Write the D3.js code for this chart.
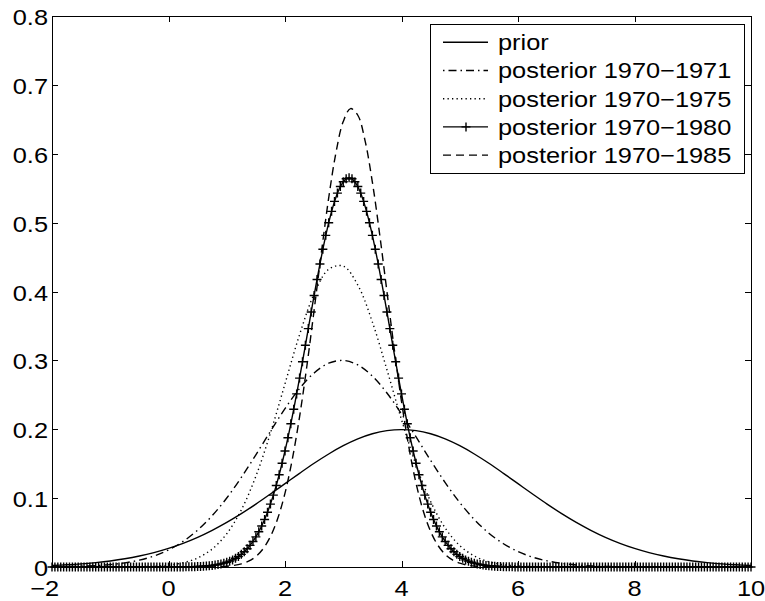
<!DOCTYPE html>
<html>
<head>
<meta charset="utf-8">
<script src="https://cdn.jsdelivr.net/npm/d3@7"></script>
<style>
  html, body { margin: 0; padding: 0; background: #fff; }
  svg { display: block; }
</style>
</head>
<body>
<svg id="chart" width="765" height="601"></svg>
<script>
// Sample positions (x) shared by the broad densities
const xCoarse = [-2,-1.75,-1.5,-1.25,-1,-0.75,-0.5,-0.25,0,0.25,0.5,0.75,1,1.25,1.5,1.75,
  2,2.25,2.5,2.75,3,3.25,3.5,3.75,4,4.25,4.5,4.75,5,5.25,5.5,5.75,
  6,6.25,6.5,6.75,7,7.25,7.5,7.75,8,8.25,8.5,8.75,9,9.25,9.5,9.75,10];

// Prior density
const prior = [0.0022,0.0032,0.0045,0.0064,0.0088,0.0119,0.0159,0.0209,
  0.0270,0.0344,0.0431,0.0533,0.0648,0.0775,0.0913,0.1060,
  0.1210,0.1360,0.1506,0.1641,0.1761,0.1860,0.1934,0.1980,
  0.1995,
  0.1980,0.1934,0.1860,0.1761,0.1641,0.1506,0.1360,0.1210,
  0.1060,0.0913,0.0775,0.0648,0.0533,0.0431,0.0344,0.0270,
  0.0209,0.0159,0.0119,0.0088,0.0064,0.0045,0.0032,0.0022];

// Posterior 1970-1971
const post7071 = [0.0003,0.0006,0.0011,0.0020,0.0035,0.0060,0.0100,0.0160,
  0.0248,0.0371,0.0535,0.0745,0.1002,0.1300,0.1629,0.1970,
  0.2299,0.2591,0.2818,0.2959,0.2999,0.2934,0.2771,0.2526,
  0.2223,0.1888,0.1548,0.1225,0.0936,0.0690,0.0491,0.0338,
  0.0224,0.0143,0.0089,0.0053,0.0030,0.0017,0.0009,0.0005,
  0.0002,0.0001,0,0,0,0,0,0,0];

// Posterior 1970-1975
const post7075 = [0,0,0,0,0,0.0001,0.0004,0.0010,
  0.0026,0.0061,0.0131,0.0261,0.0483,0.0829,0.1318,0.1945,
  0.2660,0.3373,0.3965,0.4323,0.4369,0.4093,0.3556,0.2864,
  0.2139,0.1481,0.0951,0.0566,0.0312,0.0160,0.0076,0.0033,
  0.0014,0.0005,0.0002,0.0001,0,0,0,0,
  0,0,0,0,0,0,0,0,0];

// Half-step grid for the narrowest density
const xMid = [-2,-1.875,-1.75,-1.625,-1.5,-1.375,-1.25,-1.125,
  -1,-0.875,-0.75,-0.625,-0.5,-0.375,-0.25,-0.125,
  0,0.125,0.25,0.375,0.5,0.625,0.75,0.875,
  1,1.125,1.25,1.375,1.5,1.625,1.75,1.875,
  2,2.125,2.25,2.375,2.5,2.625,2.75,2.875,
  3,3.125,3.25,3.375,3.5,3.625,3.75,3.875,
  4,4.125,4.25,4.375,4.5,4.625,4.75,4.875,
  5,5.125,5.25,5.375,5.5,5.625,5.75,5.875,
  6,6.125,6.25,6.375,6.5,6.625,6.75,6.875,
  7,7.125,7.25,7.375,7.5,7.625,7.75,7.875,
  8,8.125,8.25,8.375,8.5,8.625,8.75,8.875,
  9,9.125,9.25,9.375,9.5,9.625,9.75,9.875,
  10];

// Posterior 1970-1985 (on the half-step grid)
const post7085 = [0,0,0,0,0,0,0,0,
  0,0,0,0,0,0,0,0,
  0,0,0,0,0,0.0001,0.0002,0.0005,
  0.0011,0.0023,0.0045,0.0085,0.0153,0.0266,0.0442,0.0704,
  0.1072,0.1563,0.2181,0.2915,0.3730,0.4569,0.5358,0.6017,
  0.6468,0.6656,0.6559,0.6187,0.5587,0.4831,0.3999,0.3169,
  0.2405,0.1747,0.1215,0.0809,0.0516,0.0315,0.0184,0.0103,
  0.0055,0.0028,0.0014,0.0007,0.0003,0.0001,0,0,
  0,0,0,0,0,0,0,0,
  0,0,0,0,0,0,0,0,
  0,0,0,0,0,0,0,0,
  0,0,0,0,0,0,0,0,
  0];

// Fine grid used by the marked series (one "+" per sample)
const xFine = [
  -2,-1.95,-1.9,-1.85,-1.8,-1.75,-1.7,-1.65,-1.6,-1.55,
  -1.5,-1.45,-1.4,-1.35,-1.3,-1.25,-1.2,-1.15,-1.1,-1.05,
  -1,-0.95,-0.9,-0.85,-0.8,-0.75,-0.7,-0.65,-0.6,-0.55,
  -0.5,-0.45,-0.4,-0.35,-0.3,-0.25,-0.2,-0.15,-0.1,-0.05,
  0,0.05,0.1,0.15,0.2,0.25,0.3,0.35,0.4,0.45,
  0.5,0.55,0.6,0.65,0.7,0.75,0.8,0.85,0.9,0.95,
  1,1.05,1.1,1.15,1.2,1.25,1.3,1.35,1.4,1.45,
  1.5,1.55,1.6,1.65,1.7,1.75,1.8,1.85,1.9,1.95,
  2,2.05,2.1,2.15,2.2,2.25,2.3,2.35,2.4,2.45,
  2.5,2.55,2.6,2.65,2.7,2.75,2.8,2.85,2.9,2.95,
  3,3.05,3.1,3.15,3.2,3.25,3.3,3.35,3.4,3.45,
  3.5,3.55,3.6,3.65,3.7,3.75,3.8,3.85,3.9,3.95,
  4,4.05,4.1,4.15,4.2,4.25,4.3,4.35,4.4,4.45,
  4.5,4.55,4.6,4.65,4.7,4.75,4.8,4.85,4.9,4.95,
  5,5.05,5.1,5.15,5.2,5.25,5.3,5.35,5.4,5.45,
  5.5,5.55,5.6,5.65,5.7,5.75,5.8,5.85,5.9,5.95,
  6,6.05,6.1,6.15,6.2,6.25,6.3,6.35,6.4,6.45,
  6.5,6.55,6.6,6.65,6.7,6.75,6.8,6.85,6.9,6.95,
  7,7.05,7.1,7.15,7.2,7.25,7.3,7.35,7.4,7.45,
  7.5,7.55,7.6,7.65,7.7,7.75,7.8,7.85,7.9,7.95,
  8,8.05,8.1,8.15,8.2,8.25,8.3,8.35,8.4,8.45,
  8.5,8.55,8.6,8.65,8.7,8.75,8.8,8.85,8.9,8.95,
  9,9.05,9.1,9.15,9.2,9.25,9.3,9.35,9.4,9.45,
  9.5,9.55,9.6,9.65,9.7,9.75,9.8,9.85,9.9,9.95,
  10];

// Posterior 1970-1980 (on the fine grid)
const post7080 = [
  0,0,0,0,0,0,0,0,0,0,
  0,0,0,0,0,0,0,0,0,0,
  0,0,0,0,0,0,0,0,0,0,
  0,0,0,0,0,0,0,0,0,0,
  0,0,0,0,0,0,0.0002,0.0003,0.0004,0.0005,
  0.0007,0.0008,0.0011,0.0014,0.0018,0.0023,0.0028,0.0036,0.0045,0.0056,
  0.0069,0.0085,0.0103,0.0126,0.0153,0.0184,0.0221,0.0264,0.0314,0.0371,
  0.0437,0.0511,0.0596,0.0690,0.0796,0.0913,0.1043,0.1184,0.1339,0.1506,
  0.1685,0.1876,0.2079,0.2291,0.2513,0.2743,0.2979,0.3219,0.3461,0.3703,
  0.3942,0.4175,0.4400,0.4614,0.4815,0.4999,0.5164,0.5308,0.5429,0.5524,
  0.5594,0.5636,0.5650,0.5636,0.5594,0.5524,0.5429,0.5308,0.5164,0.4999,
  0.4815,0.4614,0.4400,0.4175,0.3942,0.3703,0.3461,0.3219,0.2979,0.2743,
  0.2513,0.2291,0.2079,0.1876,0.1685,0.1506,0.1339,0.1184,0.1043,0.0913,
  0.0796,0.0690,0.0596,0.0511,0.0437,0.0371,0.0314,0.0264,0.0221,0.0184,
  0.0153,0.0126,0.0103,0.0085,0.0069,0.0056,0.0045,0.0036,0.0028,0.0023,
  0.0018,0.0014,0.0011,0.0008,0.0007,0.0005,0.0004,0.0003,0.0002,0,
  0,0,0,0,0,0,0,0,0,0,
  0,0,0,0,0,0,0,0,0,0,
  0,0,0,0,0,0,0,0,0,0,
  0,0,0,0,0,0,0,0,0,0,
  0,0,0,0,0,0,0,0,0,0,
  0,0,0,0,0,0,0,0,0,0,
  0,0,0,0,0,0,0,0,0,0,
  0,0,0,0,0,0,0,0,0,0,
  0];

const seriesNames = ["prior", "posterior 1970\u22121971", "posterior 1970\u22121975",
  "posterior 1970\u22121980", "posterior 1970\u22121985"];

const xTicks = [-2, 0, 2, 4, 6, 8, 10];
const xTickLabels = ["\u22122", "0", "2", "4", "6", "8", "10"];
const yTicks = [0, 0.1, 0.2, 0.3, 0.4, 0.5, 0.6, 0.7, 0.8];
const yTickLabels = ["0", "0.1", "0.2", "0.3", "0.4", "0.5", "0.6", "0.7", "0.8"];

// ---- drawing ----
const svg = d3.select("#chart");
const x = d3.scaleLinear().domain([-2, 10]).range([52, 751]);
const y = d3.scaleLinear().domain([0, 0.8]).range([567, 16]);

const FONT = '"Liberation Sans", Arial, Helvetica, sans-serif';
const FS = 21.5;   // font size
const SX = 1.18;   // horizontal stretch of the lettering
const LW = 1.4;    // line width

// line styles per series (legendOffset shifts the dash phase of the key sample)
const styles = [
  { dash: null },
  { dash: "8,4,1.5,4", legendOffset: 12 },
  { dash: "1.3,3.2" },
  { dash: null, marker: true },
  { dash: "8,5" }
];

// axes frame
svg.append("rect")
  .attr("x", x(-2)).attr("y", y(0.8))
  .attr("width", x(10) - x(-2)).attr("height", y(0) - y(0.8))
  .attr("fill", "none").attr("stroke", "#000").attr("stroke-width", 1)
  .attr("shape-rendering", "crispEdges");

// inward ticks on all four sides
const tickLen = 6;
[
  [d3.axisBottom(x).tickValues(xTicks), `translate(0,${y(0)})`],
  [d3.axisTop(x).tickValues(xTicks), `translate(0,${y(0.8)})`],
  [d3.axisLeft(y).tickValues(yTicks), `translate(${x(-2)},0)`],
  [d3.axisRight(y).tickValues(yTicks), `translate(${x(10)},0)`]
].forEach(([ax, tr]) => {
  const g = svg.append("g").attr("transform", tr)
    .call(ax.tickSize(-tickLen).tickFormat(""));
  g.select(".domain").remove();
  g.selectAll("line").attr("stroke", "#000").attr("stroke-width", 1)
    .attr("shape-rendering", "crispEdges");
  g.selectAll("text").remove();
});

// tick labels
const labels = svg.append("g")
  .attr("font-family", FONT).attr("font-size", FS).attr("fill", "#000");

xTicks.forEach((v, i) => {
  const lab = xTickLabels[i];
  const t = labels.append("text").text(lab)
    .attr("transform", `translate(${x(v)},595.5) scale(${SX},1)`);
  const node = t.node();
  const full = node.getComputedTextLength();
  const neg = lab.charAt(0) === "\u2212";
  // digits centred under the tick, a leading minus hangs to the left
  const digits = neg ? node.getSubStringLength(1, lab.length - 1) : full;
  t.attr("x", -(full - digits / 2));
});

yTicks.forEach((v, i) => {
  labels.append("text").text(yTickLabels[i])
    .attr("text-anchor", "end")
    .attr("transform", `translate(48,${y(v) + 9}) scale(${SX},1)`);
});

// curves
const smooth = d3.line().x(d => x(d[0])).y(d => y(d[1])).curve(d3.curveCatmullRom);
const straight = d3.line().x(d => x(d[0])).y(d => y(d[1]));

const curves = [
  { xs: xCoarse, ys: prior },
  { xs: xCoarse, ys: post7071 },
  { xs: xCoarse, ys: post7075 },
  { xs: xFine, ys: post7080 },
  { xs: xMid, ys: post7085 }
];

const plot = svg.append("g");
const plusPath = "M-4.5,0H4.5M0,-4.5V4.5";

curves.forEach((c, k) => {
  const pts = c.xs.map((xv, i) => [xv, c.ys[i]]);
  const st = styles[k];
  plot.append("path")
    .attr("d", (c.xs === xFine ? straight : smooth)(pts))
    .attr("fill", "none").attr("stroke", "#000").attr("stroke-width", LW)
    .attr("stroke-dasharray", st.dash);
  if (st.marker) {
    plot.append("g").selectAll("path").data(pts).join("path")
      .attr("transform", d => `translate(${x(d[0])},${y(d[1])})`)
      .attr("d", plusPath)
      .attr("fill", "none").attr("stroke", "#000").attr("stroke-width", LW);
  }
});

// legend
const legend = svg.append("g");
legend.append("rect")
  .attr("x", 430).attr("y", 24).attr("width", 314).attr("height", 149)
  .attr("fill", "#fff").attr("stroke", "#000").attr("stroke-width", 1)
  .attr("shape-rendering", "crispEdges");

seriesNames.forEach((name, k) => {
  const ly = 42.3 + k * 28.2;
  const st = styles[k];
  legend.append("line")
    .attr("x1", 443).attr("x2", 488).attr("y1", ly).attr("y2", ly)
    .attr("stroke", "#000").attr("stroke-width", LW)
    .attr("stroke-dasharray", st.dash)
    .attr("stroke-dashoffset", st.legendOffset || 0);
  if (st.marker) {
    legend.append("path")
      .attr("transform", `translate(466,${ly})`)
      .attr("d", plusPath)
      .attr("fill", "none").attr("stroke", "#000").attr("stroke-width", LW);
  }
  legend.append("text").text(name)
    .attr("font-family", FONT).attr("font-size", FS).attr("fill", "#000")
    .attr("transform", `translate(498,${ly + 7.8}) scale(${SX},1)`);
});
</script>
</body>
</html>
